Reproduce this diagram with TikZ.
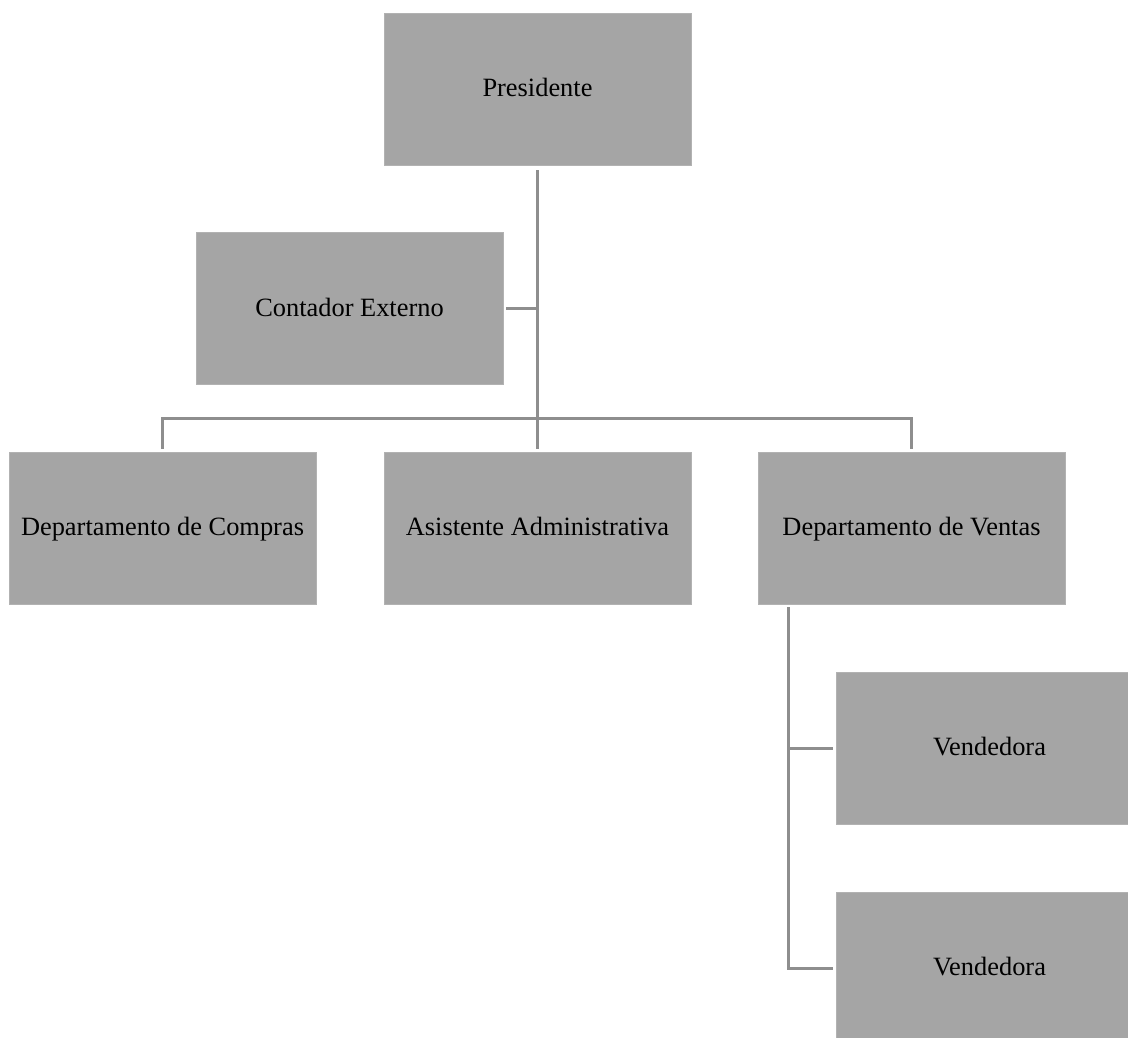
\documentclass[tikz,border=0pt]{standalone}
\usepackage{fontspec}
\setmainfont{Liberation Serif}
\definecolor{boxfill}{HTML}{A5A5A5}
\definecolor{linecol}{HTML}{8E8E8E}
\begin{document}
\begin{tikzpicture}[x=1pt,y=-1pt,
  orgbox/.style={rectangle, fill=boxfill, draw=boxfill!85!white, line width=0.8pt,
    minimum width=307pt, minimum height=152pt, inner sep=0pt,
    text height=18.5pt, text depth=2.6pt,
    font=\fontsize{26.4}{30}\selectfont, text=black},
  conn/.style={draw=linecol, line width=3pt}]
\useasboundingbox (0,0) rectangle (1128,1038);
\clip (0,0) rectangle (1128,1038);
\fill[white] (0,0) rectangle (1128,1038);

\node[orgbox] (pres) at (537.5,89) {Presidente};
\node[orgbox] (cont) at (349.5,308.5) {Contador Externo};
\node[orgbox] (comp) at (162.5,528) {Departamento de Compras};
\node[orgbox] (asis) at (537.5,528) {Asistente Administrativa};
\node[orgbox] (vent) at (911.5,528) {Departamento de Ventas};
\node[orgbox] (v1) at (989.5,748) {Vendedora};
\node[orgbox] (v2) at (989.5,968) {Vendedora};

\coordinate (bus) at (537.5,418);
\coordinate (vbus) at (788.5,607);

\draw[conn] ([yshift=-5pt]pres.south) -- (bus);
\draw[conn] ([xshift=3pt]cont.east) -- (cont.east -| bus);
\draw[conn] ([yshift=3pt]comp.north) |- (bus) -| ([yshift=3pt]vent.north);
\draw[conn] (bus) -- ([yshift=3pt]asis.north);
\draw[conn] (vbus) |- ([xshift=-3pt]v1.west);
\draw[conn] (vbus) |- ([xshift=-3pt]v2.west);
\end{tikzpicture}
\end{document}
